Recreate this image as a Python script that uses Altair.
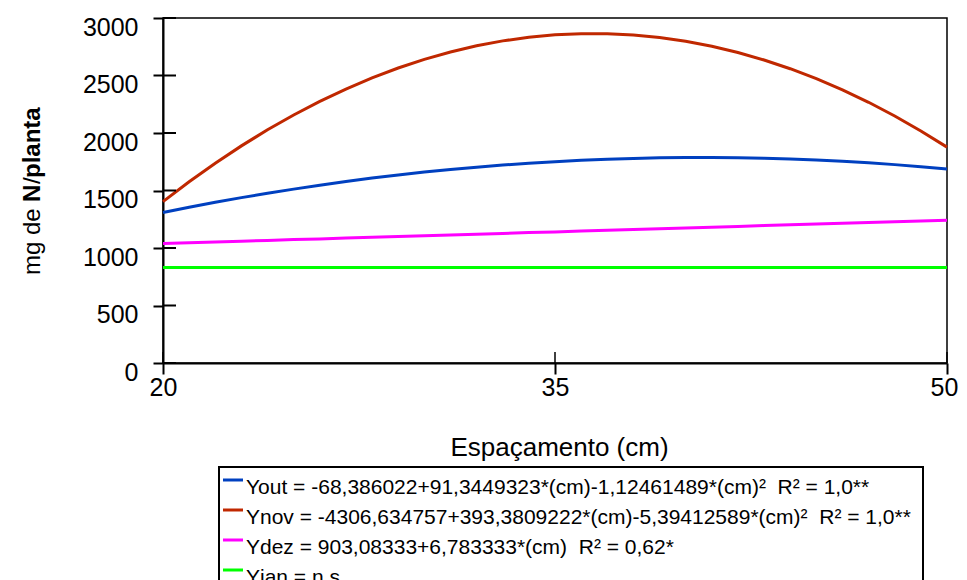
import altair as alt
import pandas as pd

# Espaçamento (cm)
x_cm = [20, 21, 22, 23, 24, 25, 26, 27, 28, 29, 30, 31, 32, 33, 34, 35,
        36, 37, 38, 39, 40, 41, 42, 43, 44, 45, 46, 47, 48, 49, 50]

# mg de N/planta
y_out = [1309, 1354, 1397, 1438, 1476, 1512, 1546, 1578, 1608, 1635, 1660,
         1683, 1703, 1721, 1737, 1751, 1763, 1772, 1779, 1784, 1786, 1786,
         1784, 1780, 1774, 1765, 1754, 1741, 1725, 1707, 1687]
y_nov = [1403, 1576, 1737, 1888, 2028, 2157, 2275, 2382, 2479, 2565, 2640,
         2704, 2758, 2801, 2833, 2854, 2864, 2864, 2853, 2831, 2798, 2755,
         2700, 2635, 2559, 2472, 2375, 2267, 2148, 2018, 1877]
y_dez = [1039, 1046, 1052, 1059, 1066, 1073, 1079, 1086, 1093, 1100, 1107,
         1113, 1120, 1127, 1134, 1140, 1147, 1154, 1161, 1168, 1174, 1181,
         1188, 1195, 1202, 1208, 1215, 1222, 1229, 1235, 1242]
y_jan = [830, 830, 830, 830, 830, 830, 830, 830, 830, 830, 830,
         830, 830, 830, 830, 830, 830, 830, 830, 830, 830, 830,
         830, 830, 830, 830, 830, 830, 830, 830, 830]

series_labels = [
    "Yout = -68,386022+91,3449323*(cm)-1,12461489*(cm)² \u00a0R² = 1,0**",
    "Ynov = -4306,634757+393,3809222*(cm)-5,39412589*(cm)² \u00a0R² = 1,0**",
    "Ydez = 903,08333+6,783333*(cm) \u00a0R² = 0,62*",
    "Yjan = n.s.",
]
series_colors = ["#0040C0", "#C02800", "#FF00FF", "#00FF00"]
legend_rows = [0, 1, 2, 3]

y_ticks = [0, 500, 1000, 1500, 2000, 2500, 3000]
x_ticks = [20, 35, 50]

rows = []
for lab, vals in zip(series_labels, [y_out, y_nov, y_dez, y_jan]):
    for xv, yv in zip(x_cm, vals):
        rows.append({"cm": xv, "val": yv, "serie": lab})
df = pd.DataFrame(rows)
legend_df = pd.DataFrame({"serie": series_labels, "row": legend_rows})

FONT = "Liberation Sans"

xscale = alt.Scale(domain=[20, 50], nice=False, zero=False)
yscale = alt.Scale(domain=[0, 3000], nice=False)
cscale = alt.Scale(domain=series_labels, range=series_colors)

lines = alt.Chart(df).mark_line(strokeWidth=3).encode(
    x=alt.X("cm:Q", scale=xscale,
            axis=alt.Axis(values=x_ticks, title="Espaçamento (cm)",
                          tickSize=11, labelPadding=21, format="d",
                          labelBaseline="alphabetic", labelFlush=False,
                          labelOffset={"condition": {"test": "datum.value === 50", "value": -3}, "value": 0},
                          titleX=396, titleY=92, titleBaseline="alphabetic",
                          titleAlign="center", titleFontSize=26,
                          titleFontWeight="normal", titleFont=FONT)),
    y=alt.Y("val:Q", scale=yscale,
            axis=alt.Axis(values=y_ticks, title=None, tickSize=10, format="d",
                          labelPadding=15, labelBaseline="alphabetic",
                          labelOffset=17)),
    color=alt.Color("serie:N", scale=cscale, sort=series_labels, legend=None),
)

ytick_in = alt.Chart(pd.DataFrame({"v": y_ticks})).mark_rule(
    color="black", strokeWidth=2).encode(
    y=alt.Y("v:Q", scale=yscale, axis=None), x=alt.value(0), x2=alt.value(13))

xtick_in = alt.Chart(pd.DataFrame({"v": x_ticks})).mark_rule(
    color="black", strokeWidth=1.5).encode(
    x=alt.X("v:Q", scale=xscale), y=alt.value(345), y2=alt.value(334))

ytitle_text = ["mg de", "N", "/", "planta"]
ytitle_weight = ["normal", "bold", "normal", "bold"]
ytitle_pos = [257, 184, 166, 160]
ytitle_layers = []
for t, w, p in zip(ytitle_text, ytitle_weight, ytitle_pos):
    ytitle_layers.append(
        alt.Chart(pd.DataFrame({"t": [t]})).mark_text(
            angle=270, align="left", baseline="middle", fontSize=24,
            font=FONT, fontWeight=w, color="black").encode(
            text="t:N", x=alt.value(-130), y=alt.value(p))
    )

# legend box and entries
legend_box = alt.Chart(pd.DataFrame({"a": [0]})).mark_rect(
    fill="white", stroke="black", strokeWidth=2).encode(
    x=alt.value(56), x2=alt.value(760), y=alt.value(449), y2=alt.value(640))

legend_swatch = alt.Chart(legend_df).mark_rule(strokeWidth=3).encode(
    y=alt.Y("row:Q", scale=alt.Scale(domain=[0, 3], range=[462, 552]), axis=None),
    x=alt.value(60), x2=alt.value(80),
    color=alt.Color("serie:N", scale=cscale, legend=None),
)

legend_text = alt.Chart(legend_df).mark_text(
    align="left", baseline="top", fontSize=21, font=FONT, color="black").encode(
    y=alt.Y("row:Q", scale=alt.Scale(domain=[0, 3], range=[459, 549]), axis=None),
    x=alt.value(83),
    text="serie:N",
)

chart = alt.layer(
    lines, ytick_in, xtick_in, *ytitle_layers,
    legend_box, legend_swatch, legend_text,
).resolve_scale(y="independent").properties(
    width=784, height=345,
    autosize=alt.AutoSizeParams(type="none"),
    padding={"left": 155, "top": 10, "right": 12, "bottom": 217},
).configure_view(
    stroke="black", strokeWidth=1.5
).configure_axis(
    grid=False, domainColor="black", domainWidth=2, tickColor="black",
    tickWidth=2, labelColor="black", labelFont=FONT, labelFontSize=25,
    titleColor="black",
)

chart.save("out.html", embed_options={"renderer": "svg", "actions": False})
